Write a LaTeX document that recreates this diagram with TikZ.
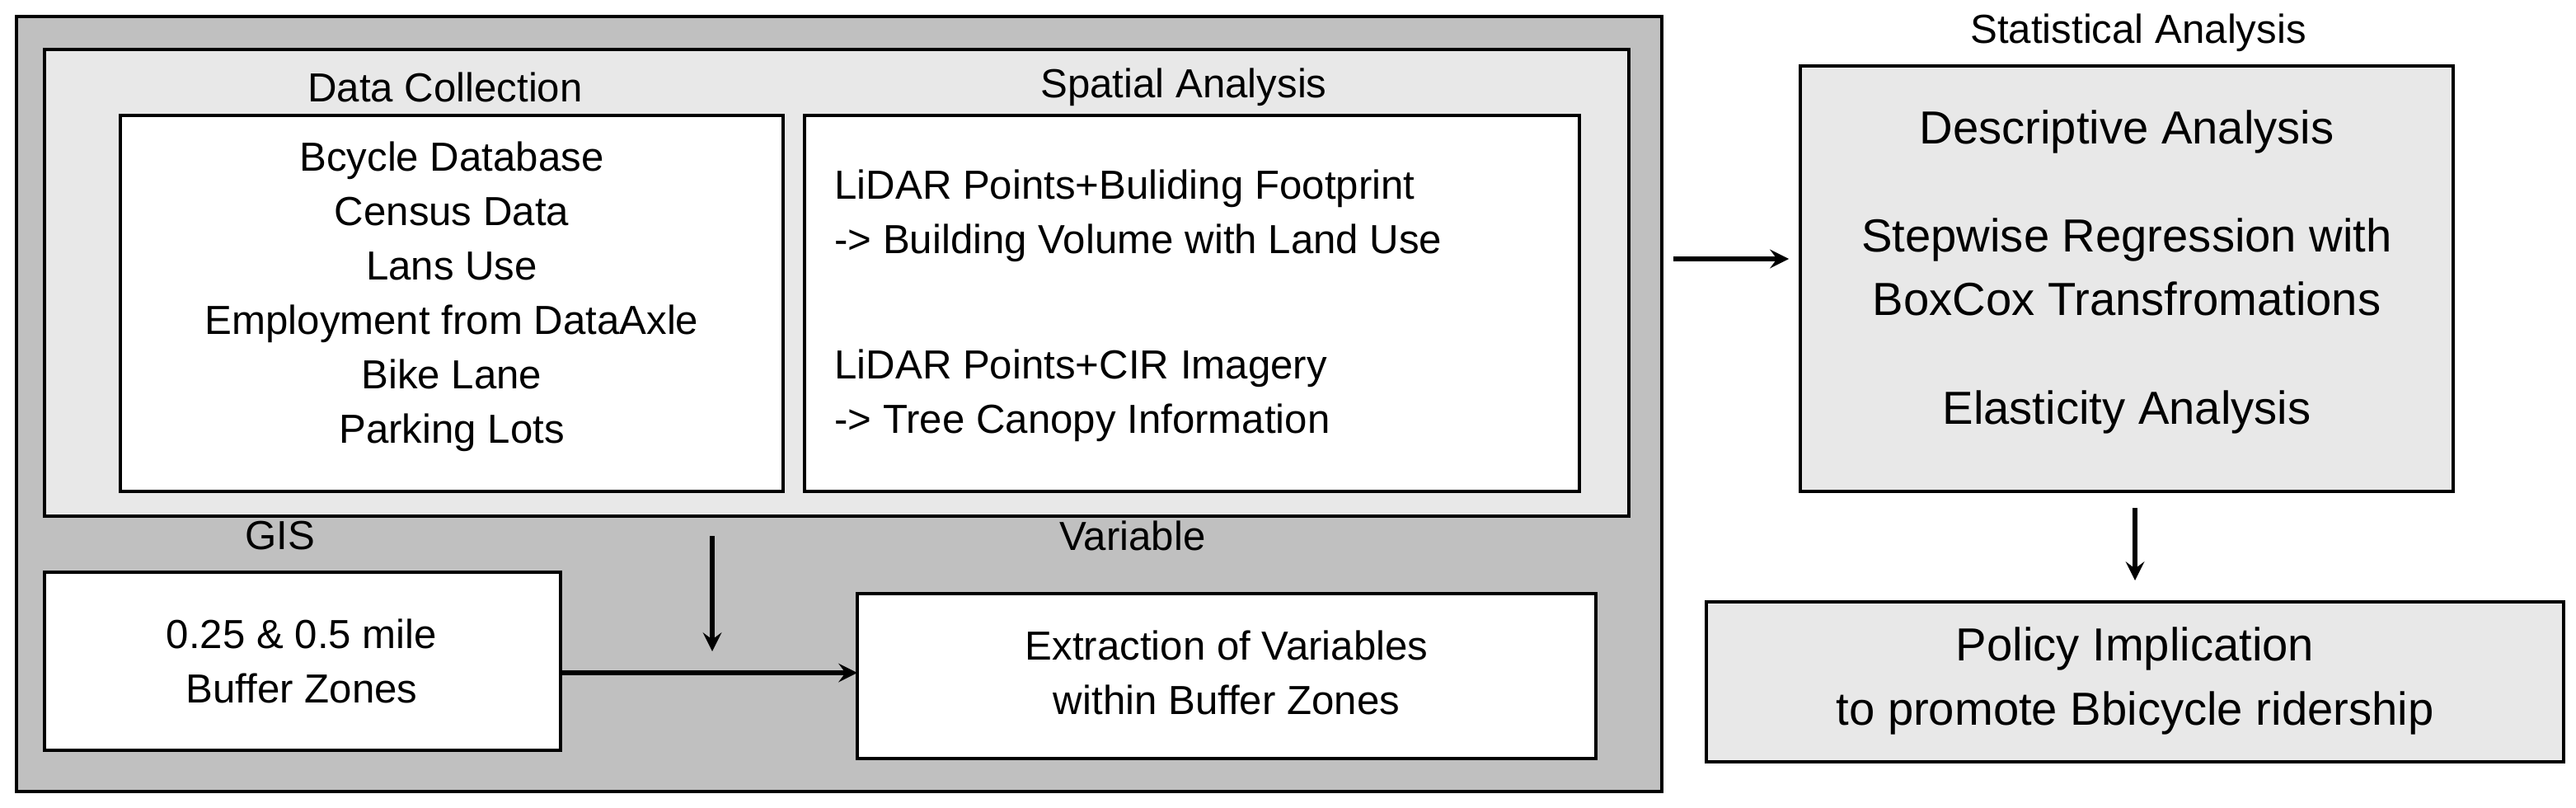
\documentclass[tikz,border=0pt]{standalone}
\usepackage{fontspec}
\setmainfont{Liberation Sans}
\usetikzlibrary{positioning}
\definecolor{darkbox}{RGB}{192,192,192}
\definecolor{lightbox}{RGB}{232,232,232}
\tikzset{
  panel/.style={draw, line width=1.2pt, inner sep=0pt},
  txt/.style={font=\fontsize{14}{18.8}\selectfont, align=center},
  big/.style={font=\fontsize{16}{22}\selectfont, align=center},
  arr/.style={line width=1.8pt, -stealth}
}
\begin{document}
\begin{tikzpicture}[x=0.02cm, y=-0.02cm]
    \useasboundingbox (0,0) rectangle (1562.5,489.5);
    % left block
    \draw[panel, fill=darkbox] (10,10) rectangle (1008,480);
    \draw[panel, fill=lightbox] (27,30) rectangle (988,313);

    \node[txt] (dclab) at (270,53) {Data Collection};
    \draw[panel, fill=white] (73,70) rectangle (475,298);
    \node[txt] (dc) at (274,180) {Bcycle Database\\Census Data\\Lans Use\\Employment from DataAxle\\Bike Lane\\Parking Lots};

    \node[txt] (salab) at (718,53) {Spatial Analysis};
    \draw[panel, fill=white] (488,70) rectangle (958,298);
    \node[txt, align=left, anchor=west] (sa1) at (500,131) {LiDAR Points+Buliding Footprint\\-> Building Volume with Land Use};
    \node[txt, align=left, anchor=west] (sa2) at (500,240) {LiDAR Points+CIR Imagery\\-> Tree Canopy Information};

    \node[txt] (gislab) at (170,325) {GIS};
    \draw[panel, fill=white] (27,347) rectangle (340,455);
    \node[txt] (gis) at (183,401) {0.25 \& 0.5 mile\\Buffer Zones};

    \node[txt] (varlab) at (687,325) {Variable};
    \draw[panel, fill=white] (520,360) rectangle (968,460);
    \coordinate (varw) at (520,408);
    \node[txt] (var) at (744,408) {Extraction of Variables\\within Buffer Zones};

    \coordinate (dtop) at (432,325);
    \coordinate (dbot) at (432,395);
    \coordinate (gise) at (340,408);
    \draw[arr] (dtop) -- (dbot);
    \draw[arr] (gise) -- (varw);

    % right block
    \coordinate (ra) at (1015,157);
    \coordinate (rb) at (1085,157);
    \draw[arr] (ra) -- (rb);
    \node[txt] (stlab) at (1297,20) {Statistical Analysis};
    \draw[panel, fill=lightbox] (1092,40) rectangle (1488,298);
    \node[big] (st1) at (1290,80) {Descriptive Analysis};
    \node[big] (st2) at (1290,162) {Stepwise Regression with\\BoxCox Transfromations};
    \node[big] (st3) at (1290,250) {Elasticity Analysis};

    \coordinate (sd1) at (1295,308);
    \coordinate (sd2) at (1295,352);
    \draw[arr] (sd1) -- (sd2);
    \draw[panel, fill=lightbox] (1035,365) rectangle (1555,462);
    \node[big] (pol) at (1295,413) {Policy Implication\\to promote Bbicycle ridership};
\end{tikzpicture}
\end{document}
